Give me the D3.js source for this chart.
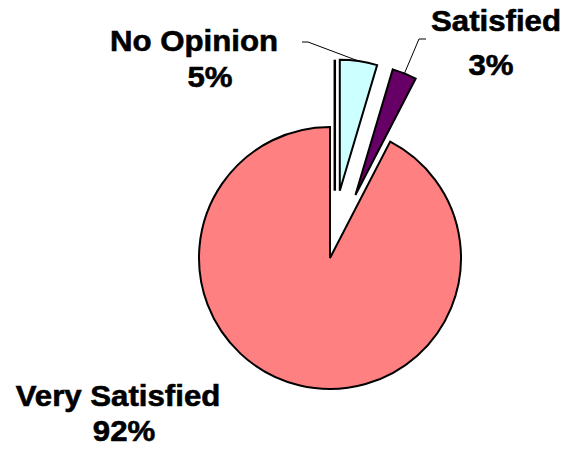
<!DOCTYPE html>
<html>
<head>
<meta charset="utf-8">
<script src="https://cdn.jsdelivr.net/npm/d3@7"></script>
<style>
  html, body { margin: 0; padding: 0; background: #fff; }
  svg { display: block; }
</style>
</head>
<body>
<svg id="chart" width="568" height="449"></svg>
<script>
// ---- data ----
const categories = ["No Opinion", "Satisfied", "Very Satisfied"];
const values = [4.6, 3.0, 92.4];
const percentLabels = ["5%", "3%", "92%"];
const colors = ["#CCFFFF", "#660066", "#FF8080"];
const exploded = [true, true, false];

// ---- layout ----
const W = 568, H = 449;
const cx = 330, cy = 258, R = 131, explodeDist = 68;
const labelLayout = [
  { nameX: 194, nameY: 51, pctX: 210, pctY: 87, leaderStart: [302, 42], elbow: [308, 42] },
  { nameX: 496, nameY: 31, pctX: 491, pctY: 75, leaderStart: [426, 39], elbow: [419, 39] },
  { nameX: 118, nameY: 406, pctX: 124, pctY: 441, leaderStart: null, elbow: null }
];

const svg = d3.select("#chart");
const g = svg.append("g").attr("transform", `translate(${cx},${cy})`);

const pie = d3.pie().sort(null).value(d => d);
const arcs = pie(values);
const arc = d3.arc().innerRadius(0).outerRadius(R);

function offset(d, i) {
  if (!exploded[i]) return [0, 0];
  const mid = (d.startAngle + d.endAngle) / 2;
  return [Math.sin(mid) * explodeDist, -Math.cos(mid) * explodeDist];
}

// extra edge line beside the No Opinion slice (as in the reference)
{
  const d = arcs[0];
  const [ox, oy] = offset(d, 0);
  const a = d.startAngle;
  const px = Math.cos(a) * -5, py = Math.sin(a) * -5;
  g.append("line")
    .attr("x1", ox + px).attr("y1", oy + py)
    .attr("x2", ox + px + Math.sin(a) * R).attr("y2", oy + py - Math.cos(a) * R)
    .attr("stroke", "#000").attr("stroke-width", 2.5);
}

g.selectAll("path.slice")
  .data(arcs)
  .join("path")
  .attr("class", "slice")
  .attr("d", arc)
  .attr("transform", (d, i) => { const o = offset(d, i); return `translate(${o[0]},${o[1]})`; })
  .attr("fill", (d, i) => colors[i])
  .attr("stroke", "#000")
  .attr("stroke-width", 2)
  .attr("stroke-linejoin", "miter");

// leader lines
arcs.forEach((d, i) => {
  const L = labelLayout[i];
  if (!L.leaderStart) return;
  const [ox, oy] = offset(d, i);
  const mid = (d.startAngle + d.endAngle) / 2;
  const ex = cx + ox + Math.sin(mid) * R;
  const ey = cy + oy - Math.cos(mid) * R;
  svg.append("polyline")
    .attr("points", [L.leaderStart, L.elbow, [ex, ey]].map(p => p.join(",")).join(" "))
    .attr("fill", "none")
    .attr("stroke", "#000")
    .attr("stroke-width", 1);
});

// labels
const font = "'Liberation Sans', Arial, Helvetica, sans-serif";
categories.forEach((c, i) => {
  const L = labelLayout[i];
  [[c, L.nameX, L.nameY], [percentLabels[i], L.pctX, L.pctY]].forEach(([t, x, y]) => {
    svg.append("text")
      .attr("transform", `translate(${x},${y}) scale(1.04,1)`)
      .attr("text-anchor", "middle")
      .attr("font-family", font)
      .attr("font-weight", "bold")
      .attr("font-size", 30)
      .attr("fill", "#000")
      .attr("stroke", "#000")
      .attr("stroke-width", 0.6)
      .text(t);
  });
});
</script>
</body>
</html>
